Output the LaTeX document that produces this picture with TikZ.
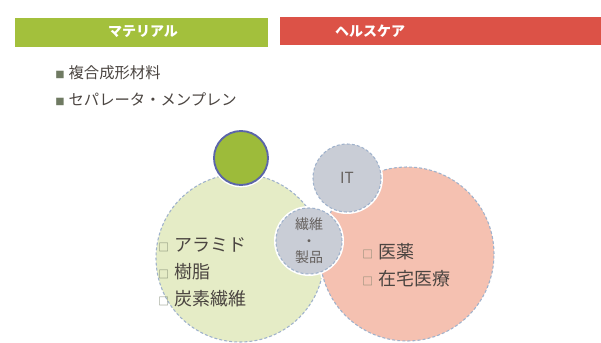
\documentclass[tikz,border=0pt]{standalone}
\usepackage{fontspec}
\setmainfont{Noto Sans CJK JP}
\usetikzlibrary{positioning}
\definecolor{barGreen}{HTML}{A3C03C}
\definecolor{barRed}{HTML}{DC5247}
\definecolor{softGreen}{HTML}{E5ECC6}
\definecolor{softPink}{HTML}{F5C1B1}
\definecolor{softGray}{HTML}{C9CDD6}
\definecolor{dotGreen}{HTML}{9DBB3A}
\definecolor{ringBlue}{HTML}{5B65A9}
\definecolor{dashBlue}{HTML}{9FB2CC}
\definecolor{inkGray}{HTML}{4B4541}
\definecolor{boxGray}{HTML}{6F7A62}

\newcommand{\hollowbox}{\textcolor{boxGray}{\fontsize{8}{8}\selectfont □}\hspace{4pt}}
\newcommand{\solidbox}{\textcolor{boxGray}{\fontsize{7}{7}\selectfont ■}\hspace{3pt}}

\begin{document}
\begin{tikzpicture}[x=0.75pt, y=-0.75pt, node distance=20pt,
	bubble/.style = {circle, inner sep=0pt, draw=dashBlue, dashed, line width=0.8pt, dash pattern=on 2.2pt off 1.6pt,
		preaction={draw=white, solid, line width=3pt}},
	item/.style = {anchor=west, inner sep=0pt, text=inkGray, font=\fontsize{13.5}{16}\selectfont},
	head/.style = {anchor=west, inner sep=0pt, text=inkGray, font=\fontsize{11.5}{14}\selectfont},
	tag/.style = {text=inkGray!85, align=center, font=\fontsize{10.5}{12.5}\selectfont}]

	\useasboundingbox (0,0) rectangle (601,343);

	% headers
	\fill[barGreen] (15,18) rectangle (268,47);
	\fill[barRed] (280,17) rectangle (601,45);
	\node[text=white, font=\bfseries\fontsize{10.5}{12}\selectfont] (mat) at (143,32) {マテリアル};
	\node[text=white, font=\bfseries\fontsize{10.5}{12}\selectfont] (care) at (370,31) {ヘルスケア};

	\node[head] (h1) at (55,73) {\solidbox 複合成形材料};
	\node[head] (h2) [below=of h1.west, anchor=west] {\solidbox セパレータ・メンプレン};

	% circles
	\node[bubble, fill=softGreen, minimum size=126pt] (green) at (240,258) {};
	\node[bubble, fill=softPink, minimum size=130.5pt] (pink) at (407,254) {};
	\node[bubble, fill=softGray, minimum size=51pt] (it) at (347,178) {};
	\node[bubble, fill=softGray, minimum size=49.5pt] (fiber) at (309,241) {};
	\node[circle, inner sep=0pt, fill=dotGreen, draw=ringBlue, line width=1.4pt, minimum size=40.5pt,
		preaction={draw=white, line width=3.5pt}] (dot) at (241,158) {};

	\node[tag, font=\fontsize{11.5}{12}\selectfont] at (it) {IT};
	\node[tag] at (fiber) {繊維\\・\\製品};

	% lists
	\node[item] (g1) at (158,245) {\hollowbox アラミド};
	\node[item] (g2) [below=of g1.west, anchor=west] {\hollowbox 樹脂};
	\node[item] (g3) [below=of g2.west, anchor=west] {\hollowbox 炭素繊維};

	\node[item] (p1) at (362,252) {\hollowbox 医薬};
	\node[item] (p2) [below=of p1.west, anchor=west] {\hollowbox 在宅医療};

\end{tikzpicture}
\end{document}
